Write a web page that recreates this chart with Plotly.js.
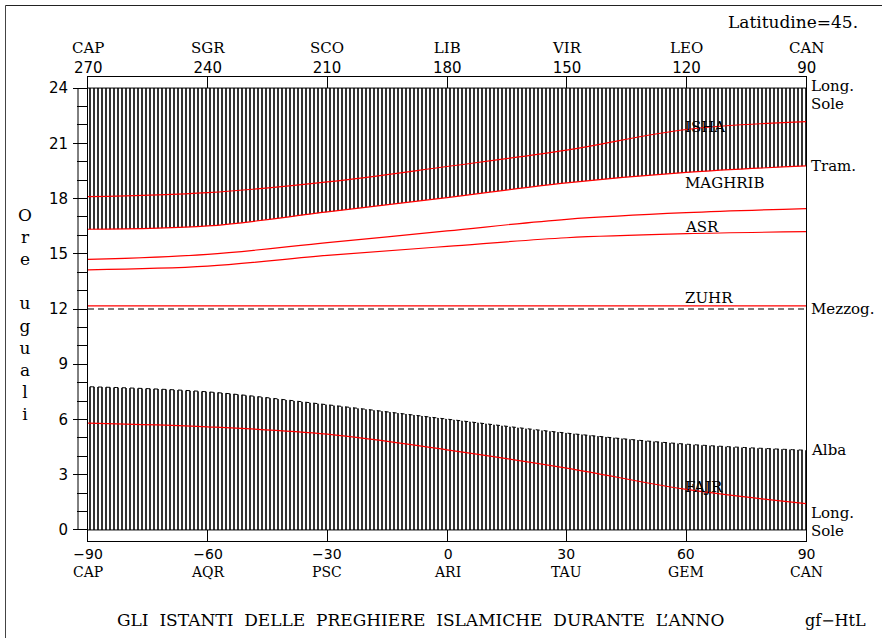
<!DOCTYPE html>
<html><head><meta charset="utf-8">
<script src="https://cdn.plot.ly/plotly-3.0.1.min.js"></script>
<style>html,body{margin:0;padding:0;background:#fff}#chart{width:882px;height:638px}</style>
</head><body><div id="chart"></div>
<script>
// Solar longitude (degrees from the equinox) at which the curves were read
const longitudes = [-90, -60, -30, 0, 30, 60, 90];
// Hours (equal hours)
const isha    = [18.10, 18.32, 18.90, 19.74, 20.63, 21.75, 22.18];
const sunset  = [16.33, 16.51, 17.27, 18.05, 18.85, 19.42, 19.77];
const asr1    = [14.69, 14.97, 15.60, 16.24, 16.87, 17.23, 17.45];
const asr2    = [14.13, 14.33, 14.91, 15.40, 15.87, 16.09, 16.20];
const sunrise = [7.78, 7.50, 6.80, 6.02, 5.26, 4.66, 4.33];
const fajr    = [5.80, 5.60, 5.20, 4.35, 3.36, 2.20, 1.43];
const zuhrX = [-90, 90];
const zuhr  = [12.17, 12.17];
const noon = 12;
const dayTop = 24, dayBottom = 0;

const xTickVals   = [-90, -60, -30, 0, 30, 60, 90];
const bottomNums  = ['\u221290', '\u221260', '\u221230', '0', '30', '60', '90'];
const bottomSigns = ['CAP', 'AQR', 'PSC', 'ARI', 'TAU', 'GEM', 'CAN'];
const topNums     = ['270', '240', '210', '180', '150', '120', '90'];
const topSigns    = ['CAP', 'SGR', 'SCO', 'LIB', 'VIR', 'LEO', 'CAN'];
const hourTicks   = [0, 3, 6, 9, 12, 15, 18, 21, 24];

const prayerLabels = [
  {text: 'ISHA', y: 21.9},
  {text: 'MAGHRIB', y: 18.85},
  {text: 'ASR', y: 16.45},
  {text: 'ZUHR', y: 12.6},
  {text: 'FAJR', y: 2.32}
];

const RED = '#ff0000';
const serif = 'DejaVu Serif';
const sans = 'DejaVu Sans';

const traces = [
  {x: [-90, 90], y: [dayTop, dayTop], mode: 'lines', line: {width: 0, color: 'rgba(0,0,0,0)'}, hoverinfo: 'skip', showlegend: false},
  {x: longitudes, y: sunset, mode: 'lines', line: {color: RED, width: 1.2, shape: 'spline'}, fill: 'tonexty',
   fillcolor: 'rgba(0,0,0,0)', fillpattern: {shape: '|', size: 4, solidity: 0.4, fgcolor: '#000', bgcolor: 'rgba(0,0,0,0)'},
   hoverinfo: 'skip', showlegend: false},
  {x: [-90, 90], y: [dayBottom, dayBottom], mode: 'lines', line: {width: 0, color: 'rgba(0,0,0,0)'}, hoverinfo: 'skip', showlegend: false},
  {x: longitudes, y: sunrise, mode: 'lines', line: {color: '#000', width: 1, shape: 'spline', dash: '0px,2px,4px,2px'}, fill: 'tonexty',
   fillcolor: 'rgba(0,0,0,0)', fillpattern: {shape: '|', size: 4, solidity: 0.4, fgcolor: '#000', bgcolor: 'rgba(0,0,0,0)'},
   hoverinfo: 'skip', showlegend: false},
  {x: longitudes, y: isha, mode: 'lines', line: {color: RED, width: 1.2, shape: 'spline'}, showlegend: false},
  {x: longitudes, y: asr1, mode: 'lines', line: {color: RED, width: 1.2, shape: 'spline'}, showlegend: false},
  {x: longitudes, y: asr2, mode: 'lines', line: {color: RED, width: 1.2, shape: 'spline'}, showlegend: false},
  {x: zuhrX, y: zuhr, mode: 'lines', line: {color: RED, width: 1.2}, showlegend: false},
  {x: longitudes, y: fajr, mode: 'lines', line: {color: RED, width: 1.2, shape: 'spline'}, showlegend: false}
];

const W = 718, H = 464, L = 88, T = 77;
const px2paperX = p => (p - L) / W;
const px2paperY = p => (T + H - p) / H;
const num = s => '<span style="font-family:DejaVu Sans">' + s + '</span>';

const annotations = [];
xTickVals.forEach((v, i) => {
  annotations.push({x: v, xref: 'x', y: 1, yref: 'paper', yanchor: 'middle', yshift: 19,
    text: topSigns[i] + '<br>' + num(topNums[i]), showarrow: false, font: {family: serif, size: 15}});
  annotations.push({x: v, xref: 'x', y: 0, yref: 'paper', yanchor: 'middle', yshift: -22,
    text: num(bottomNums[i]) + '<br>' + bottomSigns[i], showarrow: false, font: {family: serif, size: 14}});
});
prayerLabels.forEach(p => {
  annotations.push({x: 60, xref: 'x', y: p.y, yref: 'y', xanchor: 'left', xshift: -3, yanchor: 'middle', text: p.text, showarrow: false, font: {family: serif, size: 15}});
});
const rightLabels = [
  {text: 'Long.', y: dayTop, s: 2},
  {text: 'Sole', y: dayTop, s: -16},
  {text: 'Tram.', y: sunset[sunset.length - 1], s: 0},
  {text: 'Mezzog.', y: noon, s: 0},
  {text: 'Alba', y: sunrise[sunrise.length - 1], s: 0},
  {text: 'Long.', y: dayBottom, s: 17},
  {text: 'Sole', y: dayBottom, s: -1}
];
rightLabels.forEach(r => {
  annotations.push({x: 1, xref: 'paper', xanchor: 'left', xshift: 3, y: r.y, yref: 'y', yanchor: 'middle', yshift: r.s, text: r.text, showarrow: false, font: {family: serif, size: 15}});
});
annotations.push({x: px2paperX(25), xref: 'paper', xanchor: 'center', y: 11.7, yref: 'y', yanchor: 'middle',
  text: ['O','r','e','\u00A0','u','g','u','a','l','i'].join('<br>'), showarrow: false, font: {family: serif, size: 17}});
annotations.push({x: px2paperX(860), xref: 'paper', xanchor: 'right', y: px2paperY(22), yref: 'paper', yanchor: 'middle',
  text: 'Latitudine=45.', showarrow: false, font: {family: serif, size: 17}});
annotations.push({x: px2paperX(115), xref: 'paper', xanchor: 'left', y: px2paperY(620), yref: 'paper', yanchor: 'middle',
  text: 'GLI\u00A0\u00A0ISTANTI\u00A0\u00A0DELLE\u00A0\u00A0PREGHIERE\u00A0\u00A0ISLAMICHE\u00A0\u00A0DURANTE\u00A0\u00A0L\u2019ANNO', showarrow: false, font: {family: serif, size: 17}});
annotations.push({x: px2paperX(803), xref: 'paper', xanchor: 'left', y: px2paperY(620), yref: 'paper', yanchor: 'middle',
  text: 'gf\u2212HtL', showarrow: false, font: {family: serif, size: 16}});

const shapes = [
  {type: 'line', xref: 'x', yref: 'y', x0: -90, x1: 90, y0: dayTop, y1: dayTop, line: {color: '#000', width: 1}},
  {type: 'line', xref: 'x', yref: 'y', x0: -90, x1: 90, y0: dayBottom, y1: dayBottom, line: {color: '#000', width: 1}},
  {type: 'line', xref: 'x', yref: 'y', x0: -90, x1: 90, y0: noon, y1: noon, line: {color: '#000', width: 1.2, dash: '6px,4px'}},
  {type: 'line', xref: 'paper', yref: 'y', x0: px2paperX(78), x1: px2paperX(78), y0: dayBottom, y1: dayTop, line: {color: '#000', width: 1}},
  {type: 'line', xref: 'paper', yref: 'paper', x0: px2paperX(5.5), x1: px2paperX(5.5), y0: px2paperY(5.5), y1: px2paperY(640), line: {color: '#444', width: 1}},
  {type: 'line', xref: 'paper', yref: 'paper', x0: px2paperX(5.5), x1: px2paperX(884), y0: px2paperY(5.5), y1: px2paperY(5.5), line: {color: '#222', width: 1}}
];

const layout = {
  width: 882, height: 638,
  margin: {l: L, r: 882 - L - W, t: T, b: 638 - T - H, pad: 0},
  paper_bgcolor: '#fff', plot_bgcolor: '#fff',
  font: {family: serif, color: '#000', size: 14},
  showlegend: false,
  xaxis: {range: [-90, 90], showgrid: false, zeroline: false, showline: true, mirror: 'ticks', linecolor: '#000', linewidth: 1,
    ticks: 'inside', ticklen: 11, tickcolor: '#000', tickmode: 'array', tickvals: xTickVals, showticklabels: false, fixedrange: true},
  yaxis: {range: [-0.6, 24.6], showgrid: false, zeroline: false, showline: true, mirror: true, linecolor: '#000', linewidth: 1,
    ticks: 'outside', ticklen: 14, tickcolor: '#000', tickmode: 'array', tickvals: hourTicks,
    tickfont: {family: sans, size: 15}, ticklabelstandoff: 2,
    minor: {tickmode: 'linear', tick0: 0, dtick: 1, ticks: 'outside', ticklen: 10, tickcolor: '#000'}, fixedrange: true},
  annotations: annotations,
  shapes: shapes
};

Plotly.newPlot('chart', traces, layout, {staticPlot: true, displayModeBar: false});
</script></body></html>
